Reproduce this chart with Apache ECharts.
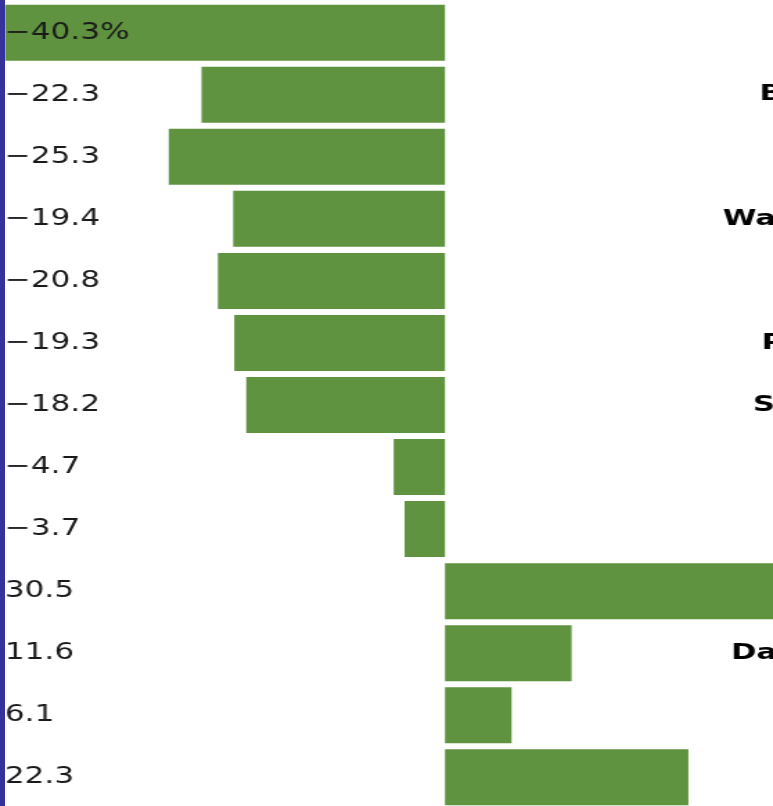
<!DOCTYPE html>
<html>
<head>
<meta charset="utf-8">
<script src="https://cdn.jsdelivr.net/npm/echarts@6/dist/echarts.min.js"></script>
<style>
  html, body { margin: 0; padding: 0; background: #fff; overflow: hidden; }
  #strip { position: absolute; left: 0; top: 0; width: 5px; height: 806px; background: #35339b; z-index: 2; }
  #chart { position: absolute; left: 0; top: 0; width: 558px; height: 806px; transform: scaleX(1.3853); transform-origin: left top; }
</style>
</head>
<body>
<div id="strip"></div>
<div id="chart"></div>
<script>
// change, percent
const areas = ['National', 'Baltimore', 'Boston', 'Washington', 'Chicago', 'Pasadena', 'San Diego',
  'Miami', 'Denver', 'Houston', 'Dallas Area', 'Austin', 'Phoenix']
const changes = [-40.3, -22.3, -25.3, -19.4, -20.8, -19.3, -18.2, -4.7, -3.7, 30.5, 11.6, 6.1, 22.3]

// labels shown in the left column
const valueLabels = changes.map(function (v, i) {
  let s = v < 0 ? '\u2212' + Math.abs(v).toFixed(1) : v.toFixed(1)
  if (i === 0) s += '%'
  return s
})

let chart = echarts.init(document.getElementById('chart'))

let option = {
  animation: false,
  grid: {
    left: 3.6,
    right: -7.5,
    top: 1.7,
    height: 806.6,
    containLabel: false,
    outerBoundsMode: 'none'
  },
  xAxis: {
    type: 'value',
    min: -40.3,
    max: 31,
    show: false
  },
  yAxis: [
    {
      type: 'category',
      data: valueLabels,
      inverse: true,
      position: 'left',
      axisLine: { show: false },
      axisTick: { show: false },
      splitLine: { show: false },
      axisLabel: {
        inside: true,
        align: 'left',
        margin: 0,
        fontFamily: 'DejaVu Sans',
        fontSize: 22.4,
        color: '#1a1a1a'
      },
      z: 10
    },
    {
      type: 'category',
      data: areas,
      inverse: true,
      position: 'right',
      axisLine: { show: false },
      axisTick: { show: false },
      splitLine: { show: false },
      axisLabel: {
        inside: false,
        align: 'right',
        margin: 103.7,
        fontFamily: 'DejaVu Sans',
        fontWeight: 'bold',
        fontSize: 22,
        color: '#000'
      }
    }
  ],
  series: [
    {
      name: 'Change',
      type: 'bar',
      yAxisIndex: 0,
      barWidth: 56,
      itemStyle: {
        color: '#5f933f'
      },
      data: changes
    }
  ]
}
chart.setOption(option)
</script>
</body>
</html>
